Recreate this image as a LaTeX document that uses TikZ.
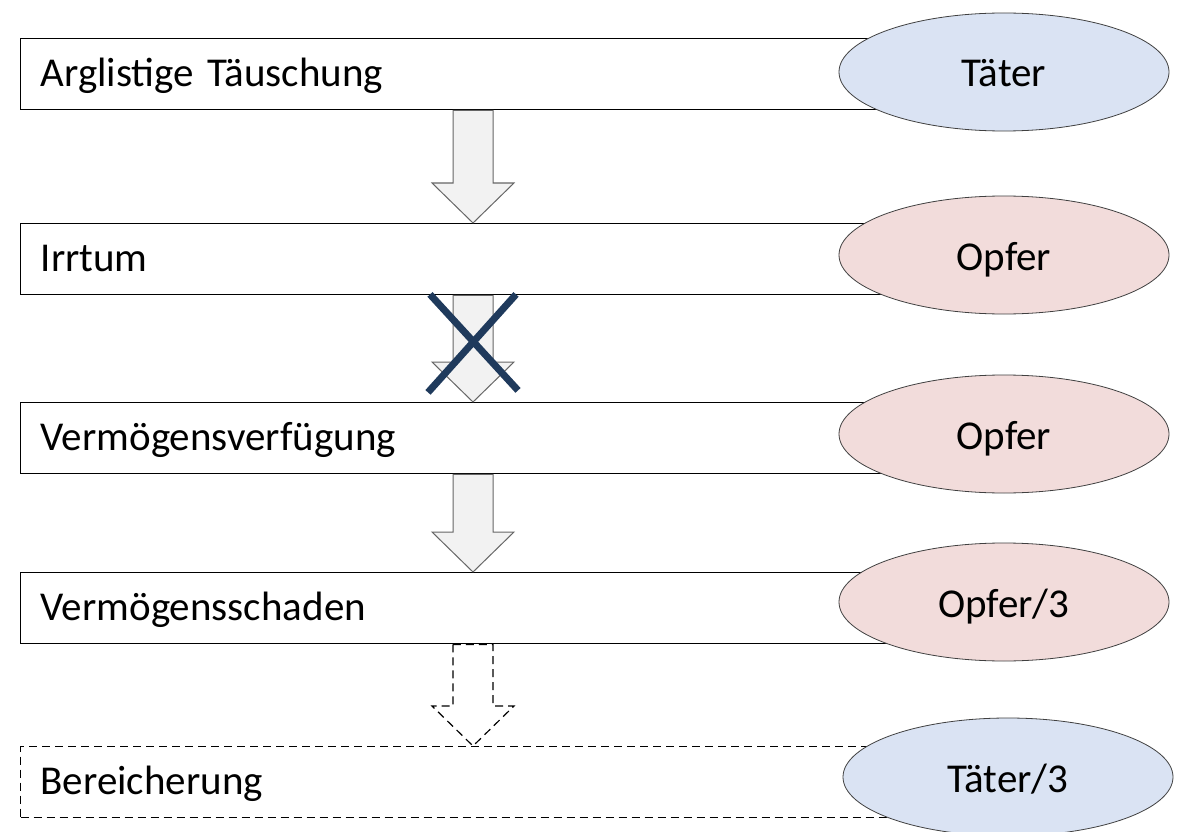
\documentclass[tikz,border=0pt]{standalone}
\usepackage{fontspec}
\setmainfont{Carlito}
\usetikzlibrary{shapes.geometric,calc}
\definecolor{tblue}{HTML}{DAE3F3}
\definecolor{opink}{HTML}{F2DCDB}
\definecolor{arrfill}{HTML}{F2F2F2}
\definecolor{crossc}{HTML}{1F3A5C}
\newcommand\bigarrow[3]{%
  \draw[#1] ($(#2)+(-20,0)$) -- ($(#3)+(-20,-40)$) -- ($(#3)+(-41,-40)$) -- (#3)
    -- ($(#3)+(41,-40)$) -- ($(#3)+(20,-40)$) -- ($(#2)+(20,0)$) -- cycle;}
\begin{document}
\begin{tikzpicture}[x=1pt,y=-1pt,
  box/.style={draw=black, line width=1.4pt, minimum width=980pt, minimum height=71pt,
    anchor=north west, text width=940pt, align=left, inner xsep=20pt,
    text height=25pt, text depth=0pt,
    font=\fontsize{41}{45}\selectfont},
  role/.style={ellipse, draw=black!75, line width=0.8pt, minimum width=330pt,
    minimum height=118pt, inner sep=0pt, text height=30pt, text depth=0pt,
    font=\fontsize{41}{45}\selectfont},
  arrowshape/.style={fill=arrfill, draw=black!60, line width=1pt, line join=miter},
  dasharrow/.style={fill=white, draw=black, line width=1.2pt, dash pattern=on 8pt off 5pt}]
\clip (0,0) rectangle (1181,832);
\fill[white] (0,0) rectangle (1181,832);
\coordinate (ax) at (473,0);
% boxes
\node[box] (b1) at (20,38) {Arglistige Täuschung};
\node[box] (b2) at (20,223) {Irrtum};
\node[box] (b3) at (20,402) {Vermögensverfügung};
\node[box] (b4) at (20,572) {Vermögensschaden};
\node[box, dash pattern=on 8pt off 5pt, line width=1.2pt] (b5) at (20,746) {Bereicherung};
% arrows
\bigarrow{arrowshape}{b1.south -| ax}{b2.north -| ax}
\bigarrow{arrowshape}{b2.south -| ax}{b3.north -| ax}
\bigarrow{arrowshape}{b3.south -| ax}{b4.north -| ax}
\bigarrow{dasharrow}{b4.south -| ax}{b5.north -| ax}
% cross
\coordinate (xc) at ($(b2.south -| ax)+(0,47)$);
\draw[crossc, line width=7pt] ($(xc)+(-43,-48)$) -- ($(xc)+(45,48)$);
\draw[crossc, line width=7pt] ($(xc)+(43,-48)$) -- ($(xc)+(-45,50)$);
% roles
\node[role, fill=tblue] (r1) at (1004,72) {Täter};
\node[role, fill=opink] (r2) at (1004,255) {Opfer};
\node[role, fill=opink] (r3) at (1004,434) {Opfer};
\node[role, fill=opink] (r4) at (1004,602) {Opfer/3};
\node[role, fill=tblue] (r5) at (1008,777) {Täter/3};
\end{tikzpicture}
\end{document}
